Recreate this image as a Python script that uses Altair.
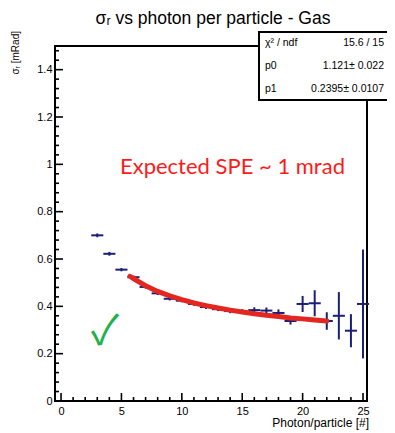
import altair as alt
import pandas as pd

# ---- data ----
x_pts = [3, 4, 5, 6, 7, 8, 9, 10, 11, 12, 13, 14, 15, 16, 17, 18, 19, 20, 21, 22, 23, 24, 25]
y_pts = [0.700, 0.622, 0.555, 0.523, 0.482, 0.455, 0.432, 0.424, 0.410, 0.397, 0.388, 0.380,
         0.378, 0.384, 0.382, 0.372, 0.338, 0.410, 0.413, 0.338, 0.360, 0.297, 0.410]
y_err = [0.008, 0.008, 0.007, 0.007, 0.007, 0.007, 0.007, 0.007, 0.007, 0.008, 0.008, 0.009,
         0.010, 0.012, 0.013, 0.015, 0.015, 0.034, 0.055, 0.037, 0.100, 0.070, 0.230]
x_half = 0.5

fit_x = [5.7, 6, 7, 8, 9, 10, 11, 12, 13, 14, 15, 16, 17, 18, 19, 20, 21, 22]
fit_y = [0.527, 0.517, 0.487, 0.463, 0.444, 0.428, 0.414, 0.403, 0.393, 0.384, 0.376,
         0.369, 0.362, 0.357, 0.351, 0.347, 0.342, 0.338]

x_major = [0, 5, 10, 15, 20, 25]
x_minor = [v for v in range(1, 25) if v % 5 != 0]
y_major = [0, 0.2, 0.4, 0.6, 0.8, 1.0, 1.2, 1.4]
y_minor = [round(i * 0.04, 2) for i in range(1, 38) if i % 5 != 0]

stats_labels = ["χ² / ndf", "p0", "p1"]
stats_values = ["15.6 / 15", "1.121± 0.022", "0.2395± 0.0107"]

title_text = "σᵣ vs photon per particle - Gas"
y_title = "σᵣ [mRad]"
x_title = "Photon/particle [#]"
note_text = "Expected SPE ~ 1 mrad"

# ---- tables ----
pts = pd.DataFrame({"x": x_pts, "y": y_pts, "e": y_err})
pts["xlo"] = pts["x"] - x_half
pts["xhi"] = pts["x"] + x_half
pts["ylo"] = pts["y"] - pts["e"]
pts["yhi"] = pts["y"] + pts["e"]
fit = pd.DataFrame({"x": fit_x, "y": fit_y})

W, H = 312, 355
FONT = "Liberation Sans"
NAVY = "#1b1f7a"

xs = alt.Scale(domain=[-0.5, 25.33], nice=False, zero=False)
ys = alt.Scale(domain=[0, 1.5], nice=False, zero=False)
ax_x = alt.Axis(values=x_major, ticks=False, domain=False, grid=False, title=None,
                labelFont=FONT, labelFontSize=11, labelPadding=4, labelColor="black",
                labelFlush=False, labelOverlap=False, format="d")
ax_y = alt.Axis(values=y_major, ticks=False, domain=False, grid=False, title=None,
                labelFont=FONT, labelFontSize=11, labelPadding=3, labelColor="black",
                labelFlush=False, labelOverlap=False, format="~g")

base = alt.Chart(pts)

hbars = base.mark_rule(color=NAVY, strokeWidth=2).encode(
    x=alt.X("xlo:Q", scale=xs, axis=ax_x),
    x2="xhi:Q",
    y=alt.Y("y:Q", scale=ys, axis=ax_y),
)
vbars = base.mark_rule(color=NAVY, strokeWidth=2).encode(
    x=alt.X("x:Q", scale=xs, axis=ax_x),
    y=alt.Y("ylo:Q", scale=ys, axis=ax_y),
    y2="yhi:Q",
)
curve = alt.Chart(fit).mark_line(color="#e3261f", strokeWidth=5, strokeCap="round").encode(
    x=alt.X("x:Q", scale=xs, axis=ax_x),
    y=alt.Y("y:Q", scale=ys, axis=ax_y),
)

# inward ticks (ROOT style)
yt_major = alt.Chart(pd.DataFrame({"v": y_major})).mark_rule(color="black", strokeWidth=1.6).encode(
    x=alt.value(0), x2=alt.value(8), y=alt.Y("v:Q", scale=ys, axis=ax_y))
yt_minor = alt.Chart(pd.DataFrame({"v": y_minor})).mark_rule(color="black", strokeWidth=1.6).encode(
    x=alt.value(0), x2=alt.value(4), y=alt.Y("v:Q", scale=ys, axis=ax_y))
xt_major = alt.Chart(pd.DataFrame({"v": x_major})).mark_rule(color="black", strokeWidth=1.6).encode(
    y=alt.value(H), y2=alt.value(H - 8), x=alt.X("v:Q", scale=xs, axis=ax_x))
xt_minor = alt.Chart(pd.DataFrame({"v": x_minor})).mark_rule(color="black", strokeWidth=1.6).encode(
    y=alt.value(H), y2=alt.value(H - 4), x=alt.X("v:Q", scale=xs, axis=ax_x))

one = pd.DataFrame({"k": [0]})

def label(text, x, y, size, align="left", color="black", font=FONT, angle=0, baseline="middle"):
    return alt.Chart(one).mark_text(
        align=align, baseline=baseline, fontSize=size, font=font, color=color, angle=angle
    ).encode(x=alt.value(x), y=alt.value(y), text=alt.value(text))

title = label(title_text, 158, -22, 17.5, align="center", baseline="alphabetic")
ytitle = label(y_title, -39, -15, 10, align="right", angle=270)
xtitle = label(x_title, 314, 381, 12, align="right", baseline="alphabetic")
note = label(note_text, 65, 121, 22, color="#ff1a1a", font="Lato")
check = label("✓", 50, 286, 41, align="center", color="#22b04a", font="Noto Sans CJK JP")

stats_box = alt.Chart(one).mark_rect(fill="white", stroke="black", strokeWidth=2).encode(
    x=alt.value(204), x2=alt.value(360), y=alt.value(-14), y2=alt.value(54))
stats_layers = []
for i, (lab, val) in enumerate(zip(stats_labels, stats_values)):
    yy = -3 + 23 * i
    stats_layers.append(label(lab, 210, yy, 10.5))
    stats_layers.append(label(val, 329, yy, 10.5, align="right"))

chart = alt.layer(
    hbars, vbars, curve, yt_major, yt_minor, xt_major, xt_minor,
    note, check, title, ytitle, xtitle, stats_box, *stats_layers
).properties(
    width=W, height=H,
    autosize=alt.AutoSizeParams(type="none"),
    padding={"left": 47, "top": 38, "right": 20, "bottom": 32},
    background="white",
).configure_view(stroke="black", strokeWidth=2)

chart.save("out.html", embed_options={"renderer": "svg", "actions": False})
